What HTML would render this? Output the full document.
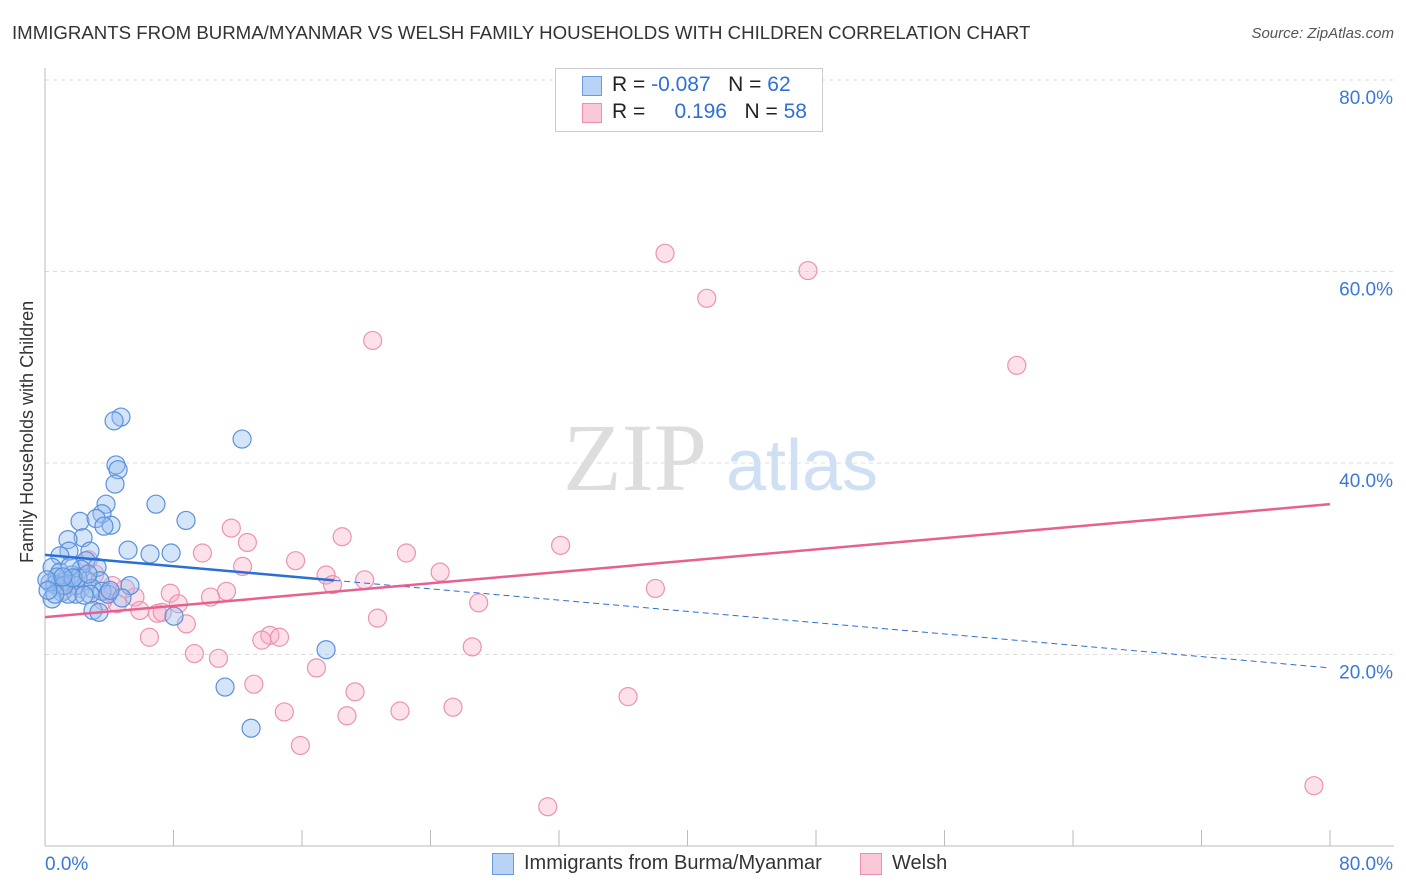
<!DOCTYPE html>
<html><head><meta charset="utf-8"><style>
body{margin:0;background:#fff;font-family:"Liberation Sans",sans-serif;}
#wrap{position:relative;width:1406px;height:892px;overflow:hidden;}
.t{position:absolute;white-space:nowrap;}
</style></head><body>
<div id="wrap">
<div class="t" style="left:12px;top:22px;font-size:18.65px;color:#333;">IMMIGRANTS FROM BURMA/MYANMAR VS WELSH FAMILY HOUSEHOLDS WITH CHILDREN CORRELATION CHART</div>
<div class="t" style="right:12px;top:25px;font-size:15px;color:#555;font-style:italic;">Source: ZipAtlas.com</div>
<div class="t" style="left:-68px;top:446px;font-size:18px;color:#333;transform:rotate(-90deg);width:190px;text-align:center;line-height:20px;transform-origin:50% 50%;"><span style="display:inline-block;transform:translateX(-12px)">Family Households with Children</span></div>
<svg id="plot" width="1406" height="892" style="position:absolute;left:0;top:0"></svg>
<div style="position:absolute;left:555px;top:68px;width:266px;height:62px;border:1px solid #ccc;background:#fff;font-size:21px;">
 <div style="position:absolute;left:26px;top:7px;width:18px;height:18px;background:#b8d3f5;border:1px solid #6a9be0;"></div>
 <div class="t" style="left:56px;top:4px;color:#222;">R = <span style="color:#2f6fd6">-0.087</span>&nbsp;&nbsp;&nbsp;N = <span style="color:#2f6fd6">62</span></div>
 <div style="position:absolute;left:26px;top:34px;width:18px;height:18px;background:#fbc8d8;border:1px solid #eb8fae;"></div>
 <div class="t" style="left:56px;top:31px;color:#222;">R = &nbsp;&nbsp;&nbsp;&nbsp;<span style="color:#2f6fd6">0.196</span>&nbsp;&nbsp;&nbsp;N = <span style="color:#2f6fd6">58</span></div>
</div>
<div style="position:absolute;left:492px;top:852px;font-size:20px;color:#333;">
 <div style="position:absolute;left:0;top:1px;width:20px;height:20px;background:#b8d3f5;border:1px solid #6a9be0;"></div>
 <div class="t" style="left:32px;top:0;">Immigrants from Burma/Myanmar</div>
 <div style="position:absolute;left:368px;top:1px;width:20px;height:20px;background:#fbc8d8;border:1px solid #eb8fae;"></div>
 <div class="t" style="left:400px;top:0;">Welsh</div>
</div>
</div>
<script>
const xTicks=[0,8,16,24,32,40,48,56,64,72,80];
const yTicks=[20,40,60,80];
const blueX=[4.73,4.30,12.27,4.42,4.55,4.36,6.91,3.80,3.55,2.18,8.78,3.18,4.11,3.67,2.37,1.43,5.17,6.54,7.85,2.80,1.49,0.93,2.55,3.24,2.24,0.44,0.93,1.68,3.42,1.31,2.62,0.31,0.62,1.93,2.93,3.55,5.29,1.06,1.93,1.43,2.80,3.92,4.79,0.44,2.99,3.36,8.03,17.50,11.21,12.83,0.75,0.12,2.05,1.18,4.05,1.56,2.43,0.62,1.74,1.12,0.19,2.68];
const blueY=[44.8,44.4,42.5,39.8,39.3,37.8,35.7,35.7,34.7,33.9,34.0,34.2,33.5,33.4,32.2,32.0,30.9,30.5,30.6,30.8,30.8,30.3,29.8,29.1,28.9,29.1,28.6,28.3,27.7,27.7,27.7,27.5,27.3,27.2,26.9,26.6,27.2,26.5,26.3,26.3,26.3,26.3,25.9,25.8,24.6,24.4,24.0,20.5,16.6,12.3,28.1,27.8,28.0,27.2,26.7,29.2,26.2,26.3,28.0,28.1,26.7,28.4];
const pinkX=[38.6,47.5,41.2,20.4,60.5,11.6,12.6,18.5,32.1,22.5,9.8,15.6,24.6,12.3,17.5,19.9,17.9,38.0,11.3,27.0,7.8,10.3,8.3,5.6,5.0,4.0,2.7,5.9,7.0,7.3,4.5,3.6,8.8,20.7,6.5,14.0,14.6,13.5,9.3,10.8,26.6,16.9,13.0,19.3,36.3,14.9,25.4,22.1,18.8,15.9,31.3,79.0,1.2,1.9,3.1,0.9,2.2,4.2];
const pinkY=[61.9,60.1,57.2,52.8,50.2,33.2,31.7,32.3,31.4,30.6,30.6,29.8,28.6,29.2,28.3,27.8,27.3,26.9,26.6,25.4,26.4,26.0,25.3,26.0,26.9,26.5,29.9,24.6,24.3,24.4,25.3,25.6,23.2,23.8,21.8,22.0,21.8,21.5,20.1,19.6,20.8,18.6,16.9,16.1,15.6,14.0,14.5,14.1,13.6,10.5,4.1,6.3,26.7,27.8,28.4,27.3,26.9,27.2];
const blueTrend=[30.4,18.6];
const blueSolidEnd=18;
const pinkTrend=[23.9,35.7];
const X0=45,X1=1330,Y0=846,Y80=80;
const sx=v=>X0+(X1-X0)*v/80;
const sy=v=>Y0-(Y0-Y80)*v/80;
const NS="http://www.w3.org/2000/svg";
const svg=document.getElementById('plot');
function mk(tag,attrs,parent){const e=document.createElementNS(NS,tag);for(const k in attrs)e.setAttribute(k,attrs[k]);(parent||svg).appendChild(e);return e;}
yTicks.forEach(t=>{
 const g=mk('line',{x1:45,x2:1394,y1:sy(t),y2:sy(t),stroke:'#ddd','stroke-dasharray':'4,4'});
 
 
 const l=mk('text',{x:1393,y:sy(t)+24,'text-anchor':'end','font-size':19,fill:'#3a78d8','font-family':'Liberation Sans'});
 l.textContent=t.toFixed(1)+'%';
 
 
});
const ax=mk('line',{x1:45,x2:1394,y1:846,y2:846,stroke:'#bbb'});


const ay=mk('line',{x1:45,x2:45,y1:68,y2:846,stroke:'#bbb'});


xTicks.forEach(t=>{
 const k=mk('line',{x1:sx(t),x2:sx(t),y1:830,y2:846,stroke:'#bbb'});
 
 
});
[[0,'start',45],[80,'end',1393]].forEach(([t,a,x])=>{
 const l=mk('text',{x:x,y:870,'text-anchor':a,'font-size':19,fill:'#3a78d8','font-family':'Liberation Sans'});
 l.textContent=t.toFixed(1)+'%';
 
 
});
const w1=mk('text',{x:635,y:490,'text-anchor':'middle','font-size':96,fill:'#ddd','font-family':'Liberation Serif'});
w1.textContent='ZIP';


const w2=mk('text',{x:802,y:490,'text-anchor':'middle','font-size':72,fill:'#cfe0f5','font-family':'Liberation Sans'});
w2.textContent='atlas';


pinkX.forEach((v,i)=>{
 const c=mk('circle',{cx:sx(v),cy:sy(pinkY[i]),r:9,fill:'rgba(248,170,195,0.35)',stroke:'#eb93b0','stroke-width':1.2});
 
 
});
blueX.forEach((v,i)=>{
 const c=mk('circle',{cx:sx(v),cy:sy(blueY[i]),r:9,fill:'rgba(150,190,240,0.4)',stroke:'#5a90dc','stroke-width':1.2});
 
 
});
const bAt=x=>blueTrend[0]+(blueTrend[1]-blueTrend[0])*x/80;
const bs=mk('line',{x1:sx(0),y1:sy(bAt(0)),x2:sx(blueSolidEnd),y2:sy(bAt(blueSolidEnd)),stroke:'#2a6fd6','stroke-width':2.5});


const bd=mk('line',{x1:sx(blueSolidEnd),y1:sy(bAt(blueSolidEnd)),x2:sx(80),y2:sy(bAt(80)),stroke:'#2a6fd6','stroke-width':1,'stroke-dasharray':'6,4'});


const pt=mk('line',{x1:sx(0),y1:sy(pinkTrend[0]),x2:sx(80),y2:sy(pinkTrend[1]),stroke:'#e8608f','stroke-width':2.5});


</script>
</body></html>
